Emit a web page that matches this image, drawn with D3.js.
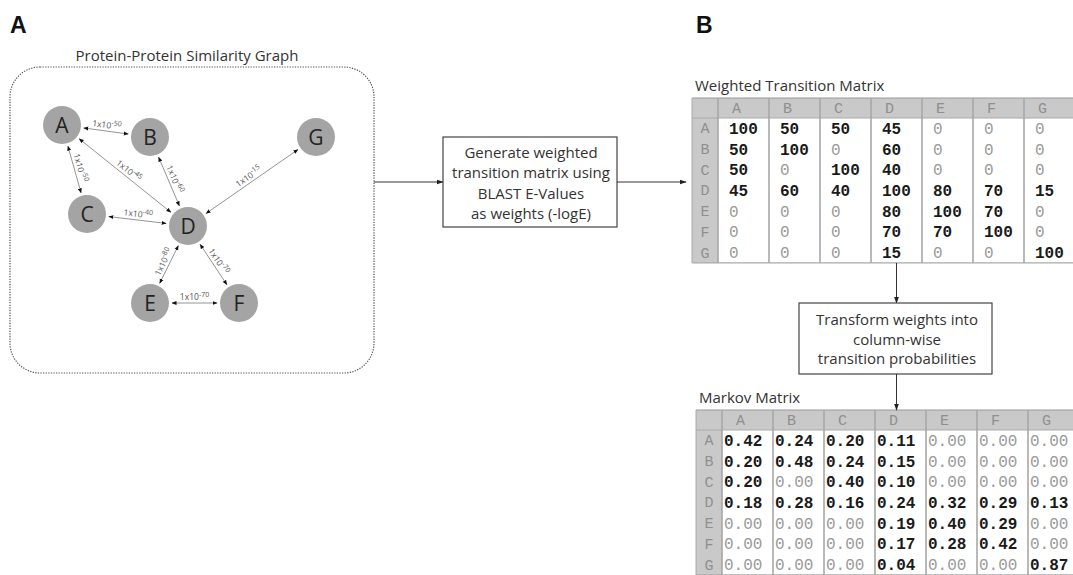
<!DOCTYPE html>
<html><head><meta charset="utf-8">
<script src="https://cdn.jsdelivr.net/npm/d3@7"></script>
<style>
body{margin:0;background:#fff;}
svg{display:block;}
</style></head>
<body>
<svg id="c" width="1073" height="575"></svg>
<script>
// ---------- DATA ----------
const nodeNames = ["A","B","C","D","E","F","G"];
// edges: [source, target, -log10(E-value)]
const edgeSources = ["A","A","A","B","C","D","D","E","D"];
const edgeTargets = ["B","C","D","D","D","E","F","F","G"];
const edgeExponents = [50,50,45,60,40,80,70,70,15];

const matrixColumns = ["A","B","C","D","E","F","G"];
const matrixRows = ["A","B","C","D","E","F","G"];
const weightedValues = [
  [100,50,50,45,0,0,0],
  [50,100,0,60,0,0,0],
  [50,0,100,40,0,0,0],
  [45,60,40,100,80,70,15],
  [0,0,0,80,100,70,0],
  [0,0,0,70,70,100,0],
  [0,0,0,15,0,0,100]
];
const markovValues = [
  [0.42,0.24,0.20,0.11,0.00,0.00,0.00],
  [0.20,0.48,0.24,0.15,0.00,0.00,0.00],
  [0.20,0.00,0.40,0.10,0.00,0.00,0.00],
  [0.18,0.28,0.16,0.24,0.32,0.29,0.13],
  [0.00,0.00,0.00,0.19,0.40,0.29,0.00],
  [0.00,0.00,0.00,0.17,0.28,0.42,0.00],
  [0.00,0.00,0.00,0.04,0.00,0.00,0.87]
];
const graphTitle = "Protein-Protein Similarity Graph";
const step1Lines = ["Generate weighted","transition matrix using","BLAST E-Values","as weights (-logE)"];
const step2Lines = ["Transform weights into","column-wise","transition probabilities"];
const weightedTitle = "Weighted Transition Matrix";
const markovTitle = "Markov Matrix";

// ---------- LAYOUT ----------
const nodeLayout = {A:[62,125],B:[150,137],C:[87,214],D:[188,226],E:[150,303],F:[239,303],G:[316,137]};
const nodeR = 19;
const sansFont = "'Open Sans', 'DejaVu Sans', sans-serif";
const monoFont = "'Liberation Mono', 'Courier New', monospace";
const sansSize = 15;

const svg = d3.select("#c");
const defs = svg.append("defs");
defs.append("marker").attr("id","ah").attr("viewBox","0 0 10 10")
  .attr("refX",9).attr("refY",5).attr("markerWidth",5).attr("markerHeight",5)
  .attr("markerUnits","userSpaceOnUse").attr("orient","auto-start-reverse")
  .append("path").attr("d","M0,1L10,5L0,9Z").attr("fill","#111");
defs.append("marker").attr("id","ahBig").attr("viewBox","0 0 10 10")
  .attr("refX",9).attr("refY",5).attr("markerWidth",7).attr("markerHeight",7)
  .attr("markerUnits","userSpaceOnUse").attr("orient","auto")
  .append("path").attr("d","M0,1.5L10,5L0,8.5Z").attr("fill","#222");

// Panel letters
svg.append("text").attr("x",10).attr("y",33).text("A")
  .attr("font-family","'Liberation Sans', Arial, sans-serif").attr("font-weight","bold").attr("font-size",23).attr("fill","#111");
svg.append("text").attr("x",696).attr("y",33).text("B")
  .attr("font-family","'Liberation Sans', Arial, sans-serif").attr("font-weight","bold").attr("font-size",23).attr("fill","#111");

// ---------- PANEL A ----------
svg.append("rect").attr("x",10).attr("y",67).attr("width",364).attr("height",306)
  .attr("rx",30).attr("ry",30).attr("fill","none").attr("stroke","#555")
  .attr("stroke-width",1.2).attr("stroke-dasharray","1.3,1.3");
svg.append("text").attr("x",187).attr("y",61).attr("text-anchor","middle")
  .attr("font-family",sansFont).attr("font-size",sansSize).attr("fill","#333").text(graphTitle);

const edges = edgeSources.map((s,i)=>({s, t:edgeTargets[i], e:edgeExponents[i]}));
const gEdges = svg.append("g");
edges.forEach(d=>{
  const [x1,y1] = nodeLayout[d.s], [x2,y2] = nodeLayout[d.t];
  const dx=x2-x1, dy=y2-y1, L=Math.hypot(dx,dy), ux=dx/L, uy=dy/L;
  const g0 = nodeR+3;
  gEdges.append("line")
    .attr("x1",x1+ux*g0).attr("y1",y1+uy*g0).attr("x2",x2-ux*g0).attr("y2",y2-uy*g0)
    .attr("stroke","#888").attr("stroke-width",0.9)
    .attr("marker-start","url(#ah)").attr("marker-end","url(#ah)");
  let ang = Math.atan2(dy,dx)*180/Math.PI;
  if (ang>90) ang-=180; if (ang<-90) ang+=180;
  const mx=(x1+x2)/2, my=(y1+y2)/2;
  const t = gEdges.append("text")
    .attr("transform",`translate(${mx},${my}) rotate(${ang})`)
    .attr("y",-3).attr("text-anchor","middle")
    .attr("font-family",sansFont).attr("font-size",8.5).attr("fill","#555");
  t.append("tspan").text("1x10");
  t.append("tspan").attr("dy",-3.5).attr("font-size",7).text("-"+d.e);
});

const gNodes = svg.append("g");
nodeNames.forEach(n=>{
  const [x,y]=nodeLayout[n];
  gNodes.append("circle").attr("cx",x).attr("cy",y).attr("r",nodeR).attr("fill","#a4a4a4");
  gNodes.append("text").attr("x",x).attr("y",y+7.5).attr("text-anchor","middle")
    .attr("font-family",sansFont).attr("font-size",21).attr("fill","#222").text(n);
});

// ---------- FLOW BOXES ----------
function box(x,y,w,h,lines,cx,baseY,lh){
  svg.append("rect").attr("x",x).attr("y",y).attr("width",w).attr("height",h)
    .attr("fill","#fff").attr("stroke","#444").attr("stroke-width",1.2);
  lines.forEach((l,i)=>svg.append("text").attr("x",cx).attr("y",baseY+i*lh)
    .attr("text-anchor","middle").attr("font-family",sansFont).attr("font-size",sansSize)
    .attr("fill","#333").text(l));
}
function arrow(x1,y1,x2,y2){
  svg.append("line").attr("x1",x1).attr("y1",y1).attr("x2",x2).attr("y2",y2)
    .attr("stroke","#333").attr("stroke-width",1).attr("marker-end","url(#ahBig)");
}
arrow(374,182,443,182);
box(443,137,174,90,step1Lines,531,158,20.3);
arrow(617,182,686,182);

// ---------- TABLES ----------
function drawTable(cfg){
  const g = svg.append("g");
  const x = d3.scaleBand().domain(matrixColumns).range([cfg.x0+cfg.labW, cfg.x0+cfg.labW+matrixColumns.length*cfg.colW]);
  const y = d3.scaleBand().domain(matrixRows).range([cfg.y0+cfg.headH, cfg.y0+cfg.headH+matrixRows.length*cfg.rowH]);
  const right = x.range()[1], bottom = y.range()[1];
  g.append("text").attr("x",cfg.x0+3).attr("y",cfg.y0-7).attr("font-family",sansFont)
    .attr("font-size",sansSize).attr("fill","#333").text(cfg.title);
  g.append("rect").attr("x",cfg.x0).attr("y",cfg.y0).attr("width",right-cfg.x0).attr("height",bottom-cfg.y0).attr("fill","#fff");
  g.append("rect").attr("x",cfg.x0).attr("y",cfg.y0).attr("width",right-cfg.x0).attr("height",cfg.headH).attr("fill","#c9c9c9");
  g.append("rect").attr("x",cfg.x0).attr("y",cfg.y0).attr("width",cfg.labW).attr("height",bottom-cfg.y0).attr("fill","#c9c9c9");
  // grid lines
  g.append("line").attr("x1",cfg.x0).attr("x2",right).attr("y1",cfg.y0).attr("y2",cfg.y0).attr("stroke","#999").attr("stroke-width",1.2);
  g.append("line").attr("x1",cfg.x0).attr("x2",right).attr("y1",cfg.y0+cfg.headH).attr("y2",cfg.y0+cfg.headH).attr("stroke","#aaa").attr("stroke-width",1);
  g.append("line").attr("x1",cfg.x0).attr("x2",right).attr("y1",bottom).attr("y2",bottom).attr("stroke","#aaa").attr("stroke-width",1.2);
  g.append("line").attr("x1",cfg.x0).attr("x2",cfg.x0).attr("y1",cfg.y0).attr("y2",bottom).attr("stroke","#aaa").attr("stroke-width",1);
  matrixColumns.forEach(c=>{
    g.append("line").attr("x1",x(c)).attr("x2",x(c)).attr("y1",cfg.y0).attr("y2",bottom)
      .attr("stroke","#a8a8a8").attr("stroke-width",1.6);
  });
  g.append("line").attr("x1",right).attr("x2",right).attr("y1",cfg.y0).attr("y2",bottom).attr("stroke","#a8a8a8").attr("stroke-width",1.6);
  // headers
  matrixColumns.forEach(c=>g.append("text").attr("x",x(c)+cfg.headPad).attr("y",cfg.y0+cfg.headH/2+5)
    .attr("font-family",monoFont).attr("font-size",15).attr("fill","#8f8f8f").text(c));
  matrixRows.forEach(r=>g.append("text").attr("x",cfg.x0+cfg.labW/2).attr("y",y(r)+cfg.rowH/2+5)
    .attr("text-anchor","middle").attr("font-family",monoFont).attr("font-size",15).attr("fill","#8f8f8f").text(r));
  // values
  cfg.values.forEach((row,i)=>row.forEach((v,j)=>{
    g.append("text").attr("x",x(matrixColumns[j])+cfg.valPad).attr("y",y(matrixRows[i])+cfg.rowH/2+5.5)
      .attr("font-family",monoFont).attr("font-size",16)
      .attr("font-weight",v>0?"bold":"normal").attr("fill",v>0?"#1a1a1a":"#9a9a9a")
      .text(cfg.fmt(v));
  }));
  return {x,y,bottom};
}
const wt = drawTable({x0:692,y0:98,labW:26,colW:51,headH:20,rowH:20.7,headPad:14,valPad:11,
  values:weightedValues,fmt:d3.format("d"),title:weightedTitle});
const mk = drawTable({x0:696,y0:410,labW:26,colW:51,headH:20,rowH:20.7,headPad:14,valPad:2,
  values:markovValues,fmt:d3.format(".2f"),title:markovTitle});

const dCenter = wt.x("D")+wt.x.bandwidth()/2;
arrow(dCenter,wt.bottom,dCenter,303);
box(799,303,193,71,step2Lines,897,325,19.5);
arrow(dCenter,374,dCenter,410);
</script>
</body></html>
